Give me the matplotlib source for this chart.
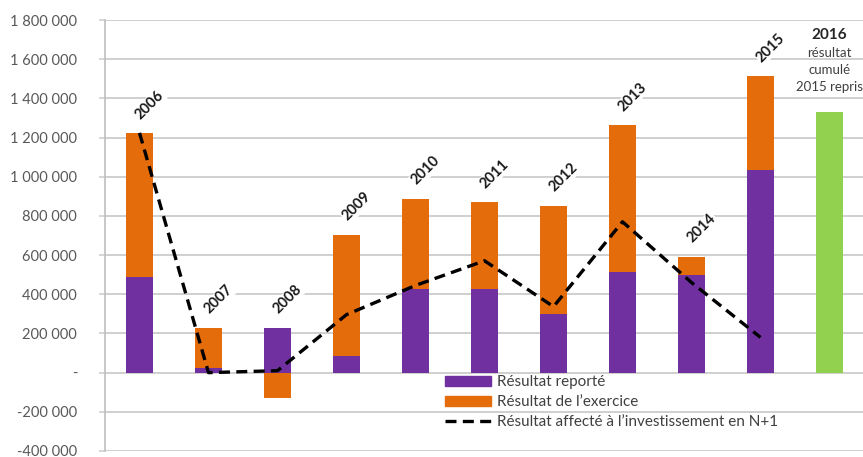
import numpy as np
import matplotlib
matplotlib.use("Agg")
import matplotlib.pyplot as plt
from matplotlib.ticker import FuncFormatter, MultipleLocator
from matplotlib.patches import Patch
from matplotlib.lines import Line2D

annees = ['2006', '2007', '2008', '2009', '2010', '2011', '2012', '2013', '2014', '2015']
report = [490000, 25000, 230000, 87000, 429000, 429000, 301000, 515000, 500000, 1036000]
exercice = [734000, 205000, -128000, 617000, 459000, 443000, 551000, 750000, 92000, 479000]
affecte = [1224000, 0, 10000, 296000, 445000, 571000, 337000, 770000, 460000, 180000]
cumul_2016 = 1332000
note_2016 = ['résultat', 'cumulé', '2015 repris']

violet = '#7030A0'
orange = '#E46C0A'
vert = '#92D050'
gris = '#595959'

plt.rcParams['font.family'] = ['Lato', 'DejaVu Sans']

fig = plt.figure(figsize=(8.63, 4.57), dpi=100)
ax = fig.add_axes([105 / 863, 6 / 457, 759 / 863, 431 / 457])

x = np.arange(len(annees))
larg = 0.39
bas = [r if e > 0 else 0 for r, e in zip(report, exercice)]
ax.bar(x, report, width=larg, color=violet, zorder=2)
ax.bar(x, exercice, width=larg, bottom=bas, color=orange, zorder=2)
ax.bar(len(annees), cumul_2016, width=larg, color=vert, zorder=2)
ax.plot(x, affecte, color='black', lw=2.4, linestyle=(0, (3.3, 1.9)), zorder=3)

# étiquettes des années au-dessus des barres
for i, a in enumerate(annees):
    haut = max(report[i], report[i] + exercice[i])
    ax.annotate(a, xy=(i, haut), xytext=(2.5, 8), textcoords='offset points',
                rotation=45, rotation_mode='anchor', ha='left', va='bottom',
                fontsize=10.5, fontweight='bold', color='#1a1a1a', zorder=4,
                bbox=dict(facecolor='white', edgecolor='none', pad=0.5))

i16 = len(annees)
ax.text(i16, 1724000, '2016', ha='center', va='center', fontsize=11,
        fontweight='bold', color='#262626')
for k, ligne in enumerate(note_2016):
    ax.text(i16, 1633000 - k * 87000, ligne, ha='center', va='center',
            fontsize=9.5, color='#404040')

ax.set_xlim(-0.5, 10.5)
ax.set_ylim(-400000, 1800000)
ax.yaxis.set_major_locator(MultipleLocator(200000))


def fmt(v, pos):
    if v == 0:
        return '-'
    return '{:,.0f}'.format(v).replace(',', ' ')


ax.yaxis.set_major_formatter(FuncFormatter(fmt))
ax.grid(axis='y', color='#cfcfcf', lw=1.4, zorder=0)
ax.set_axisbelow(True)
ax.set_xticks([])
ax.tick_params(axis='y', length=4, width=1.2, color='#cfcfcf', labelsize=10.5,
               labelcolor=gris, pad=16)
for s in ['top', 'right', 'bottom']:
    ax.spines[s].set_visible(False)
ax.spines['left'].set_color('#bfbfbf')
ax.spines['left'].set_linewidth(1.2)

poignees = [Patch(color=violet), Patch(color=orange),
            Line2D([0], [0], color='black', lw=2.4, linestyle=(0, (3.3, 1.9)))]
noms = ['Résultat reporté', 'Résultat de l’exercice',
        'Résultat affecté à l’investissement en N+1']
leg = ax.legend(poignees, noms, loc='upper left', bbox_to_anchor=(0.44, 0.19),
                frameon=False, fontsize=11, handlelength=3.0, handleheight=0.62,
                labelspacing=0.38, handletextpad=0.4, borderaxespad=0)
for t in leg.get_texts():
    t.set_color('#404040')

fig.savefig('out.png', dpi=100)
